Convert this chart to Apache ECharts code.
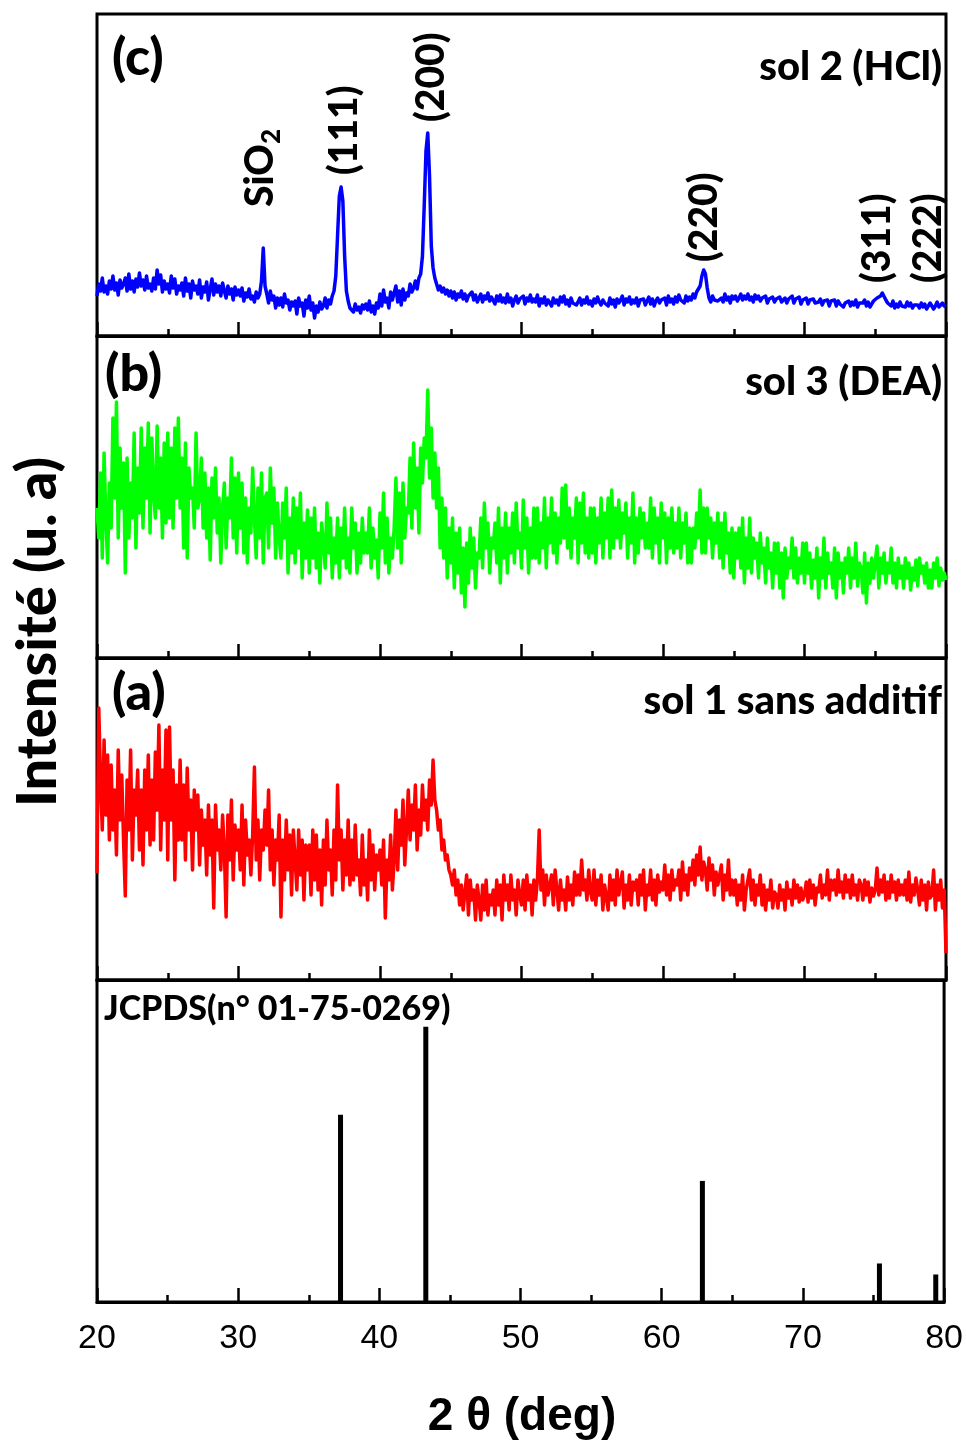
<!DOCTYPE html>
<html>
<head>
<meta charset="utf-8">
<script src="https://cdn.jsdelivr.net/npm/echarts@6/dist/echarts.min.js"></script>
<style>
  html, body { margin: 0; padding: 0; background: #fff; }
  #chart { width: 966px; height: 1442px; }
</style>
</head>
<body>
<div id="chart"></div>
<script>
// 2θ sampling of the measured patterns: start angle and step (deg)
const twoThetaStart = 20;
const twoThetaStep = 0.125;

// (c) sol 2 (HCl) – intensity (u. a), 8 values per degree
const solHCl = [
  40, 52, 45, 58, 44, 50, 42, 55,
  47, 60, 46, 53, 41, 56, 48, 52,
  58, 45, 62, 47, 55, 44, 57, 49,
  63, 50, 56, 46, 60, 48, 52, 45,
  58, 47, 66, 52, 61, 44, 55, 47,
  52, 43, 60, 48, 57, 42, 50, 46,
  53, 40, 58, 45, 52, 38, 55, 46,
  50, 42, 56, 38, 49, 44, 54, 36,
  47, 57, 41, 52, 44, 50, 40, 53,
  45, 38, 50, 42, 47, 36, 49, 41,
  46, 40, 48, 35, 43, 39, 47, 37,
  40, 34, 44, 38, 42, 55, 88, 50,
  42, 33, 45, 36, 40, 28, 38, 31,
  38, 29, 42, 33, 36, 26, 34, 30,
  35, 22, 38, 30, 33, 20, 36, 28,
  40, 26, 33, 18, 30, 24, 34, 27,
  30, 38, 28, 36, 32, 40, 45, 60,
  100, 140, 149, 135, 80, 45, 35, 28,
  30, 24, 32, 26, 29, 23, 31, 27,
  32, 26, 35, 24, 30, 22, 33, 28,
  42, 30, 46, 34, 38, 28, 44, 36,
  38, 50, 34, 45, 31, 47, 36, 43,
  40, 52, 44, 48, 55, 47, 58, 62,
  80, 130, 185, 203, 160, 90, 68, 58,
  52, 46, 50, 44, 48, 42, 46, 40,
  45, 38, 44, 36, 42, 39, 45, 37,
  42, 35, 40, 38, 44, 36, 41, 34,
  36, 42, 34, 40, 37, 43, 35, 39,
  38, 32, 40, 35, 41, 34, 38, 33,
  42, 34, 38, 30, 36, 40, 33, 37,
  36, 40, 32, 38, 35, 41, 34, 37,
  34, 41, 30, 37, 33, 39, 31, 36,
  35, 30, 38, 33, 36, 31, 39, 34,
  40, 32, 36, 30, 38, 33, 35, 31,
  34, 38, 31, 36, 33, 39, 32, 35,
  30, 37, 33, 39, 34, 31, 36, 33,
  35, 30, 38, 32, 36, 29, 37, 33,
  36, 40, 31, 37, 34, 39, 32, 36,
  33, 38, 30, 36, 34, 37, 31, 35,
  39, 32, 37, 30, 35, 38, 33, 36,
  35, 38, 31, 40, 34, 37, 32, 39,
  34, 41, 36, 38, 33, 40, 35, 39,
  36, 42, 38, 44, 42, 50, 60, 66,
  62, 48, 38, 34, 40, 36, 38, 35,
  35, 38, 34, 42, 36, 39, 33, 40,
  37, 40, 35, 38, 42, 36, 40, 37,
  42, 36, 39, 34, 41, 37, 40, 35,
  38, 36, 40, 33, 37, 35, 39, 34,
  37, 35, 39, 34, 36, 38, 33, 37,
  36, 40, 33, 37, 35, 39, 32, 36,
  35, 38, 32, 36, 34, 37, 33, 35,
  34, 37, 31, 35, 33, 36, 30, 35,
  33, 36, 30, 35, 32, 34, 29, 33,
  32, 35, 30, 34, 31, 36, 29, 33,
  31, 33, 36, 30, 34, 29, 32, 35,
  34, 38, 36, 40, 43, 41, 36, 33,
  33, 30, 35, 28, 32, 29, 34, 30,
  32, 29, 34, 30, 33, 28, 31, 29,
  31, 28, 33, 29, 32, 27, 30, 33,
  32, 27, 30, 34, 29, 31, 33, 30,
  29
];

// (b) sol 3 (DEA)
const solDEA = [
  150, 120, 185, 100, 205, 140, 95, 175,
  130, 240, 160, 256, 120, 210, 150, 195,
  85, 200, 120, 175, 140, 225, 110, 190,
  145, 230, 130, 210, 160, 235, 125, 220,
  165, 140, 232, 150, 200, 120, 215, 135,
  225, 140, 210, 130, 230, 160, 240, 150,
  200, 110, 215, 100, 190, 160, 170, 130,
  225, 150, 160, 200, 130, 185, 120, 170,
  98, 180, 140, 190, 125, 160, 95, 150,
  175, 110, 160, 140, 200, 120, 180, 105,
  185, 130, 175, 105, 160, 95, 150, 125,
  190, 140, 100, 170, 120, 185, 95, 160,
  165, 110, 190, 135, 170, 100, 155, 120,
  100, 155, 120, 170, 85, 140, 105, 160,
  95, 150, 110, 165, 80, 135, 100, 148,
  85, 140, 100, 150, 90, 125, 75, 135,
  115, 90, 155, 105, 140, 80, 120, 95,
  140, 80, 130, 100, 150, 90, 120, 85,
  150, 110, 135, 85, 125, 95, 140, 105,
  125, 105, 150, 90, 130, 100, 118, 80,
  145, 110, 165, 95, 140, 85, 120, 100,
  130, 180, 110, 165, 95, 175, 120, 150,
  145, 200, 130, 215, 150, 190, 125, 210,
  175, 220, 200, 268, 180, 230, 160, 205,
  150, 190, 110, 160, 100, 150, 80, 130,
  95, 140, 70, 125, 85, 130, 65, 110,
  51, 115, 75, 130, 90, 120, 70, 105,
  100, 140, 90, 155, 110, 135, 85, 120,
  110, 135, 95, 150, 75, 130, 100, 145,
  85, 130, 105, 145, 95, 155, 110, 125,
  90, 158, 110, 140, 85, 130, 100, 150,
  100, 150, 95, 135, 110, 160, 90, 140,
  115, 160, 105, 145, 95, 140, 115, 170,
  120, 173, 110, 150, 100, 140, 120, 160,
  95, 155, 115, 165, 105, 140, 100, 150,
  105, 150, 95, 140, 115, 160, 100, 145,
  120, 160, 100, 168, 110, 150, 120, 158,
  110, 145, 125, 155, 100, 140, 115, 165,
  95, 140, 105, 150, 120, 145, 110, 135,
  110, 160, 100, 150, 115, 140, 95, 155,
  120, 145, 95, 140, 110, 150, 105, 135,
  110, 150, 100, 135, 115, 145, 95, 130,
  95, 130, 110, 145, 120, 168, 105, 150,
  105, 150, 120, 140, 100, 135, 115, 145,
  100, 135, 90, 145, 105, 125, 85, 130,
  80, 125, 100, 130, 90, 140, 75, 120,
  90, 140, 85, 120, 100, 115, 80, 125,
  95, 110, 75, 120, 90, 105, 70, 115,
  85, 115, 70, 105, 60, 110, 80, 100,
  90, 120, 80, 110, 75, 100, 85, 115,
  75, 115, 85, 105, 70, 98, 80, 110,
  60, 100, 80, 120, 70, 105, 85, 95,
  70, 110, 60, 105, 80, 95, 65, 100,
  85, 110, 70, 100, 80, 115, 72, 95,
  90, 65, 105, 55, 95, 75, 100, 80,
  80, 112, 70, 100, 85, 105, 75, 95,
  85, 110, 75, 95, 70, 100, 80, 92,
  70, 100, 80, 95, 68, 90, 78, 98,
  72, 100, 85, 92, 75, 95, 70, 88,
  70, 95, 80, 100, 72, 90, 78, 85,
  78
];

// (a) sol 1 sans additif
const solNoAdditive = [
  107, 272, 200, 150, 240, 165, 225, 140,
  215, 150, 190, 125, 230, 160, 205, 140,
  84, 200, 150, 230, 120, 190, 165, 210,
  130, 190, 115, 210, 150, 225, 135, 200,
  140, 228, 170, 255, 130, 210, 160, 250,
  120, 253, 160, 210, 100, 195, 140, 220,
  140, 195, 120, 212, 150, 180, 110, 190,
  150, 185, 115, 170, 135, 160, 105, 175,
  125, 160, 72, 175, 130, 150, 110, 165,
  130, 63, 165, 120, 180, 100, 155, 130,
  150, 110, 175, 95, 160, 125, 140, 105,
  145, 213, 120, 160, 100, 150, 130, 170,
  135, 190, 110, 150, 95, 140, 120, 165,
  63, 140, 100, 160, 110, 145, 85, 150,
  120, 90, 150, 105, 140, 80, 135, 110,
  135, 85, 150, 100, 145, 90, 130, 75,
  140, 95, 160, 110, 130, 85, 150, 100,
  195, 120, 150, 90, 140, 105, 160, 95,
  140, 100, 155, 105, 120, 85, 145, 95,
  120, 80, 150, 100, 135, 90, 125, 110,
  130, 95, 140, 62, 120, 100, 145, 90,
  120, 170, 110, 160, 135, 180, 115, 150,
  190, 140, 175, 150, 195, 130, 170, 145,
  195, 160, 180, 150, 200, 175, 220, 180,
  170, 150, 160, 130, 140, 120, 125, 110,
  105, 95, 110, 85, 100, 75, 95, 70,
  70, 105, 65, 100, 80, 90, 60, 95,
  80, 60, 95, 70, 100, 65, 85, 75,
  90, 65, 100, 75, 95, 60, 105, 80,
  95, 70, 105, 80, 90, 65, 100, 85,
  75, 100, 70, 105, 80, 95, 65, 100,
  80, 100, 150, 90, 110, 75, 105, 85,
  85, 105, 75, 110, 90, 70, 100, 80,
  90, 70, 103, 80, 95, 75, 108, 85,
  105, 85, 120, 90, 100, 80, 110, 88,
  80, 110, 75, 100, 85, 105, 70, 95,
  95, 70, 105, 80, 100, 75, 110, 85,
  85, 108, 72, 95, 80, 105, 75, 98,
  90, 100, 75, 105, 85, 110, 70, 95,
  85, 110, 80, 100, 75, 105, 88, 98,
  90, 115, 85, 105, 80, 110, 90, 100,
  95, 110, 80, 118, 90, 105, 85, 112,
  100, 120, 95, 125, 105, 133, 100, 118,
  110, 90, 122, 100, 115, 85, 108, 95,
  95, 115, 80, 105, 90, 120, 85, 100,
  85, 100, 75, 95, 80, 105, 70, 90,
  90, 110, 80, 100, 75, 95, 85, 105,
  75, 95, 70, 90, 80, 100, 72, 88,
  85, 72, 95, 80, 90, 70, 98, 82,
  90, 75, 100, 82, 95, 78, 92, 80,
  85, 98, 78, 100, 82, 95, 75, 92,
  88, 105, 82, 95, 85, 110, 80, 100,
  90, 100, 85, 110, 88, 98, 82, 105,
  88, 100, 82, 105, 85, 95, 80, 100,
  95, 80, 100, 85, 98, 78, 92, 84,
  90, 112, 85, 100, 88, 105, 80, 98,
  82, 105, 88, 98, 80, 100, 85, 95,
  85, 100, 80, 108, 78, 95, 85, 102,
  90, 75, 100, 80, 95, 70, 98, 82,
  85, 110, 70, 95, 80, 100, 72, 90,
  27
];

// JCPDS n° 01-75-0269 reference lines: 2θ (deg) and relative intensity (%)
const refTwoTheta = [37.25, 43.29, 62.88, 75.42, 79.41];
const refIntensity = [68, 100, 44, 14, 10];

// Peak annotations on the HCl pattern: rich text, 2θ of the label axis, intensity where the label starts
const peakLabels = ['{m|SiO}{sub|2}', '{m|(111)}', '{m|(200)}', '{m|(220)}', '{m|(311)}', '{m|(222)}'];
const peakLabelTwoTheta = [31.55, 37.55, 43.7, 62.95, 75.2, 78.8];
const peakLabelIntensity = [129, 161, 214, 74, 53, 53];

// Panel texts
const panelTags = ['(c)', '(b)', '(a)'];
const panelNames = ['sol 2 (HCl)', 'sol 3 (DEA)', 'sol 1 sans additif'];
const refCardName = 'JCPDS(n° 01-75-0269)';
const xTickValues = [20, 30, 40, 50, 60, 70, 80];
const xTitle = '2 θ (deg)';
const yTitle = 'Intensité (u. a)';

const toPairs = arr => arr.map((v, i) => [twoThetaStart + i * twoThetaStep, v]);

const LABEL_FONT = 'Lato, "Open Sans", sans-serif';
const ARIAL_FONT = '"Liberation Sans", Arial, sans-serif';
const HEAVY = 900;

const plotLeft = 97, plotWidth = 849, panelHeight = 322, firstTop = 14;
const panelCount = 4;

const grids = [], xAxes = [], yAxes = [];
for (let i = 0; i < panelCount; i++) {
  grids.push({
    left: plotLeft, width: plotWidth, top: firstTop + i * panelHeight, height: panelHeight,
    show: true, borderColor: '#000', borderWidth: 3, backgroundColor: 'transparent'
  });
  const last = i === panelCount - 1;
  xAxes.push({
    type: 'value', gridIndex: i, min: 20, max: 80, interval: 10,
    axisLine: { show: true, lineStyle: { color: '#000', width: 3 } },
    axisTick: { show: true, inside: true, length: 14, lineStyle: { color: '#000', width: 2.5 } },
    minorTick: { show: true, splitNumber: 2, length: 7, lineStyle: { color: '#000', width: 2.5 } },
    splitLine: { show: false },
    minorSplitLine: { show: false },
    axisLabel: {
      show: last, margin: 20, color: '#000', fontFamily: ARIAL_FONT, fontSize: 34,
      customValues: xTickValues
    }
  });
  yAxes.push({
    type: 'value', gridIndex: i, min: 0, max: last ? 117 : 322, show: false
  });
}

const lineSeries = (data, color, idx) => ({
  type: 'line', xAxisIndex: idx, yAxisIndex: idx, data: toPairs(data),
  showSymbol: false, symbol: 'none', animation: false,
  lineStyle: { color, width: 3.5, join: 'round' }, emphasis: { disabled: true }
});

const series = [
  lineSeries(solHCl, '#0000ff', 0),
  lineSeries(solDEA, '#00ff00', 1),
  lineSeries(solNoAdditive, '#ff0000', 2),
  {
    type: 'bar', xAxisIndex: 3, yAxisIndex: 3, animation: false,
    data: refTwoTheta.map((t, i) => [t, refIntensity[i]]),
    barWidth: 5, itemStyle: { color: '#000' }
  }
];

const graphic = [];
const tagX = [112, 105, 112];
const tagY = [58, 374, 693];
const nameY = [67, 382, 701];
panelTags.forEach((t, i) => {
  graphic.push({
    type: 'text', x: tagX[i], y: tagY[i],
    style: { text: t, font: `${HEAVY} 52px ${LABEL_FONT}`, fill: '#000', textVerticalAlign: 'middle' }
  });
  graphic.push({
    type: 'text', x: 942, y: nameY[i],
    style: { text: panelNames[i], font: `${HEAVY} 40px ${LABEL_FONT}`, fill: '#000', textAlign: 'right', textVerticalAlign: 'middle' }
  });
});
graphic.push({
  type: 'text', x: 104, y: 1009,
  style: { text: refCardName, font: `${HEAVY} 34px ${LABEL_FONT}`, fill: '#000', textVerticalAlign: 'middle' }
});
graphic.push({
  type: 'text', x: 522, y: 1417,
  style: { text: xTitle, font: `bold 46px ${ARIAL_FONT}`, fill: '#000', textAlign: 'center', textVerticalAlign: 'middle' }
});
graphic.push({
  type: 'text', x: 38, y: 632, rotation: Math.PI / 2,
  style: { text: yTitle, font: `${HEAVY} 56px ${LABEL_FONT}`, fill: '#000', textAlign: 'center', textVerticalAlign: 'middle' }
});

const chart = echarts.init(document.getElementById('chart'), null, { renderer: 'canvas' });
chart.setOption({
  backgroundColor: '#fff',
  animation: false,
  grid: grids,
  xAxis: xAxes,
  yAxis: yAxes,
  series,
  graphic
});

// Vertical peak labels, placed through the HCl panel's axes
const peakGraphics = peakLabels.map((t, i) => {
  const [px, py] = chart.convertToPixel({ xAxisIndex: 0, yAxisIndex: 0 }, [peakLabelTwoTheta[i], peakLabelIntensity[i]]);
  return {
    type: 'text', x: px, y: py, rotation: Math.PI / 2,
    style: {
      text: t, textAlign: 'left', textVerticalAlign: 'middle', fill: '#000',
      rich: {
        m: { fontFamily: LABEL_FONT, fontWeight: HEAVY, fontSize: 39, lineHeight: 40, verticalAlign: 'top', fill: '#000' },
        sub: { fontFamily: LABEL_FONT, fontWeight: HEAVY, fontSize: 26, lineHeight: 28, verticalAlign: 'top', padding: [18, 0, 0, 0], fill: '#000' }
      }
    }
  };
});
chart.setOption({ graphic: graphic.concat(peakGraphics) });
</script>
</body>
</html>
